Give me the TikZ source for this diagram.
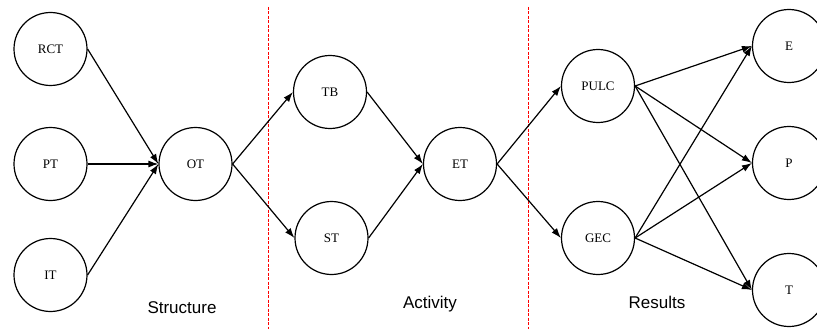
\documentclass[tikz,border=0pt]{standalone}
\usepackage{fontspec}
\setmainfont{Liberation Serif}
\newfontfamily\labelfont{Liberation Sans}
\usetikzlibrary{arrows.meta}
\begin{document}
\begin{tikzpicture}[x=1pt,y=-1pt,
  state/.style={circle,draw,line width=1.2pt,minimum size=73pt,inner sep=0pt,font=\fontsize{13}{15}\selectfont},
  flow/.style={line width=1.2pt,-{Latex[length=10pt,width=7pt]}},
  divider/.style={red,line width=0.6pt,dash pattern=on 3pt off 1.5pt},
  caption/.style={font=\labelfont\fontsize{17}{20}\selectfont}]
\useasboundingbox (0,0) rectangle (817,329);
\clip (0,0) rectangle (817,329);
\coordinate (d1t) at (268,7);
\coordinate (d1b) at (268,329);
\coordinate (d2t) at (528,7);
\coordinate (d2b) at (528,329);
\draw[divider] (d1t) -- (d1b);
\draw[divider] (d2t) -- (d2b);
\node[state] (RCT) at (50.5,49) {RCT};
\node[state] (PT) at (50.5,164) {PT};
\node[state] (IT) at (50.5,275) {IT};
\node[state] (OT) at (195.5,164) {OT};
\node[state] (TB) at (330,92) {TB};
\node[state] (ST) at (331.5,238) {ST};
\node[state] (ET) at (460,164) {ET};
\node[state] (PULC) at (598,86) {PULC};
\node[state] (GEC) at (598,238) {GEC};
\node[state] (E) at (789,46) {E};
\node[state] (P) at (789,163) {P};
\node[state] (T) at (789,290) {T};
\node[caption] (s) at (182,308) {Structure};
\node[caption] (a) at (430,304) {Activity};
\node[caption] (r) at (657,302) {Results};
\draw[flow] (RCT.east) -- (OT.west);
\draw[flow] (PT.east) -- (OT.west);
\draw[flow] (IT.east) -- (OT.west);
\draw[flow] (OT.east) -- (TB.west);
\draw[flow] (OT.east) -- (ST.west);
\draw[flow] (TB.east) -- (ET.west);
\draw[flow] (ST.east) -- (ET.west);
\draw[flow] (ET.east) -- (PULC.west);
\draw[flow] (ET.east) -- (GEC.west);
\draw[flow] (PULC.east) -- (E.west);
\draw[flow] (PULC.east) -- (P.west);
\draw[flow] (PULC.east) -- (T.west);
\draw[flow] (GEC.east) -- (E.west);
\draw[flow] (GEC.east) -- (P.west);
\draw[flow] (GEC.east) -- (T.west);
\end{tikzpicture}
\end{document}
